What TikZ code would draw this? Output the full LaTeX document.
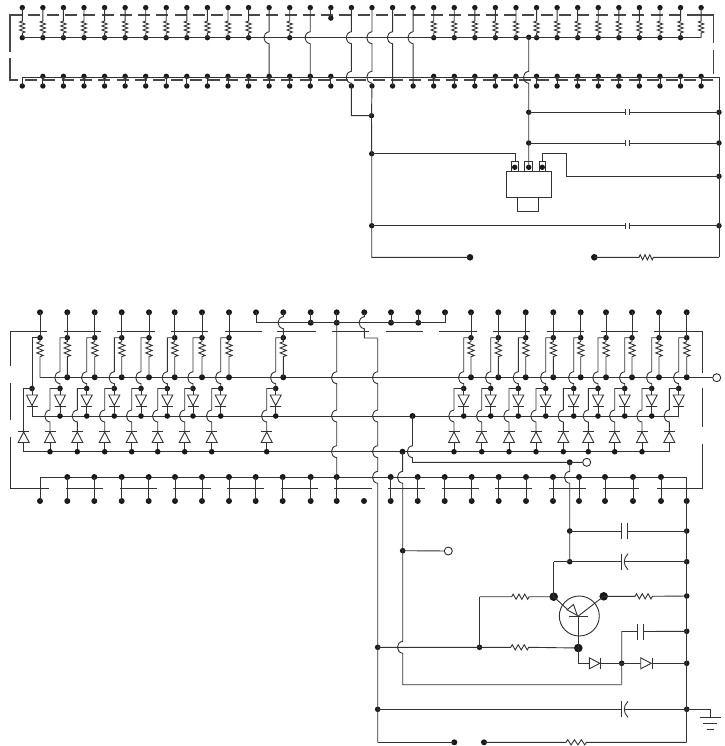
\documentclass[tikz,border=0pt]{standalone}
\begin{document}
\begin{tikzpicture}[x=1pt,y=-1pt,line cap=butt,line join=miter,
  wire/.style={line width=0.9pt,draw=black!80},
  dashwire/.style={line width=1.1pt,draw=black!72},
  dot/.style={circle,fill=black!90,draw=none,inner sep=0pt,minimum size=5.4pt},
  mdot/.style={dot,minimum size=6pt},
  bdot/.style={dot,minimum size=8.6pt},
  odot/.style={circle,fill=white,draw=black!82,line width=0.9pt,inner sep=0pt,minimum size=8pt},
  part/.style={line width=0.9pt,draw=black!80,fill=white}]
\useasboundingbox (0,0) rectangle (724,746);
\newcommand\hp[2]{-- ({#1},{#2-6}) .. controls ({#1-7},{#2-5}) and ({#1-7},{#2+5}) .. ({#1},{#2+6})}
\newcommand\rV[4]{-- ({#1},{#2}) -- ++({-#4},{.5*#3}) -- ++({2*#4},{#3}) -- ++({-2*#4},{#3}) -- ++({2*#4},{#3}) -- ++({-2*#4},{#3}) -- ++({2*#4},{#3}) -- ++({-#4},{.5*#3})}
\newcommand\rH[3]{-- ({#1},{#2}) -- ++({.5*#3},-2.6) -- ++({#3},5.2) -- ++({#3},-5.2) -- ++({#3},5.2) -- ++({#3},-5.2) -- ++({#3},5.2) -- ++({.5*#3},-2.6)}
\newcommand\capplates[3]{\draw[wire] ([yshift=-#3pt]#1) -- ([yshift=#3pt]#1); \draw[wire] ([yshift=-#3pt]#2) -- ([yshift=#3pt]#2);}
\newcommand\capcurve[2]{\draw[wire] ([yshift=-8pt]#1) -- ([yshift=8pt]#1); \draw[wire] ([yshift=-8pt]#2) .. controls ([xshift=-5pt,yshift=-3pt]#2) and ([xshift=-5pt,yshift=3pt]#2) .. ([yshift=8pt]#2);}
\newcommand\diodeD[2]{\draw[part] ({#1-5.5},{#2}) -- ({#1+5.5},{#2}) -- ({#1},{#2+10.5}) -- cycle; \draw[wire] ({#1-5.5},{#2+11.5}) -- ({#1+5.5},{#2+11.5});}
\newcommand\diodeU[2]{\draw[part] ({#1-5.5},{#2+11.5}) -- ({#1+5.5},{#2+11.5}) -- ({#1},{#2+1}) -- cycle; \draw[wire] ({#1-5.5},{#2}) -- ({#1+5.5},{#2});}
\newcommand\diodeR[2]{\draw[part] ({#1},{#2-5.5}) -- ({#1},{#2+5.5}) -- ({#1+10.5},{#2}) -- cycle; \draw[wire] ({#1+11.5},{#2-5.5}) -- ({#1+11.5},{#2+5.5});}

% ========== upper board ==========
\foreach \i in {0,...,33}{
  \pgfmathsetmacro\x{22.3+20.57*\i}
  \node[dot] (t\i) at (\x,7.6) {};
  \node[dot] (b\i) at (\x,86) {};
  \coordinate (w\i) at (\x,37.7);
  \coordinate (v\i) at (\x,77.3);
}
\foreach \i in {0,...,11,13,20,21,...,32}{\node[dot] (u\i) at (w\i) {};}
\coordinate (u33) at (w33);
\foreach \i in {1,...,15,20,21,...,33}{\node[dot] (l\i) at ([yshift=1pt]v\i) {};}
\node[dot] (n15) at ([yshift=-10.5pt]t15) {};
\node[dot] (m0) at (528.7,37.3) {};
\node[dot] (m1) at (528.7,112.3) {};
\node[dot] (m2) at (528.7,143) {};
\node[dot] (m3) at (528.7,167.3) {};
\node[dot] (pl) at (514.7,167.3) {};
\node[dot] (pr) at (542.3,167.3) {};
\node[dot] (g1) at (371.5,115.7) {};
\node[dot] (g2) at (371.7,153.7) {};
\node[dot] (g3) at (371.7,225.7) {};
\node[dot] (h1) at (719,112.3) {};
\node[dot] (h2) at (719,143) {};
\node[dot] (h3) at (719,176.3) {};
\node[dot] (h4) at (719,225.7) {};
\node[mdot,minimum size=6.6pt] (s1) at (470,257.3) {};
\node[mdot,minimum size=6.6pt] (s2) at (594.3,257.3) {};
\coordinate (lc) at (371.7,257.3);
\coordinate (rc) at (719,257.3);
\coordinate (re) at (719,77.3);

% dashed surround
\draw[dashwire] (10,52) -- (10,15) -- (22,15);
\draw[dashwire] (10,58) -- (10,80) -- (18,80);
\draw[dashwire,dash pattern=on 12pt off 6.3pt] (28.3,15) -- (687,15);
\draw[dashwire] (687.3,15) -- (713.3,15) -- (713.3,43);
\draw[dashwire] (713.3,50) -- (713.3,74);
\draw[dashwire,dash pattern=on 12pt off 6.3pt] (25,80) -- (713,80);

\foreach \i in {0,...,11,13,20,21,...,33}{
  \pgfmathsetmacro\x{22.3+20.57*\i}
  \draw[wire] (t\i.center) \rV{\x}{21}{2}{2.7} -- (u\i.center);
}
\draw[wire] (u0.center) -- (w33);
\draw[wire] (v0) -- (re);
\draw[wire] (v0) -- (b0.center);
\foreach \i in {1,...,15,20,21,...,33}{\draw[wire] (l\i.center) -- (b\i.center);}
\draw[wire] (t12.center) \hp{269.14}{37.7} -- (l12.center);
\draw[wire] (t14.center) \hp{310.28}{37.7} -- (l14.center);
\draw[wire] (t15.center) -- (n15.center);
\draw[wire] (t16.center) \hp{351.42}{37.7} \hp{351.42}{77.3} -- (b16.center) |- (g1.center);
\draw[wire] (t17.center) \hp{371.99}{37.7} \hp{371.99}{77.3} -- (b17.center) -- (g1.center);
\draw[wire] (t18.center) \hp{392.56}{37.7} -- (b18.center);
\draw[wire] (t19.center) \hp{413.13}{37.7} -- (b19.center);
\draw[wire] (m0.center) \hp{528.7}{77.3} -- (m1.center) -- (m2.center) -- (m3.center);
\draw[wire] (g1.center) -- (g2.center) -- (g3.center) -- (lc) -- (s1.center);
\draw[wire] (re) -- (h1.center) -- (h2.center) -- (h3.center) -- (h4.center) -- (rc);
\coordinate (c1a) at (625.3,112.3); \coordinate (c1b) at (629,112.3);
\coordinate (c2a) at (625.3,143);   \coordinate (c2b) at (629,143);
\coordinate (c3a) at (625.3,225.7); \coordinate (c3b) at (629,225.7);
\draw[wire] (m1.center) -- (c1a) (c1b) -- (h1.center);
\draw[wire] (m2.center) -- (c2a) (c2b) -- (h2.center);
\draw[wire] (g3.center) -- (c3a) (c3b) -- (h4.center);
\capplates{c1a}{c1b}{3}
\capplates{c2a}{c2b}{3}
\capplates{c3a}{c3b}{3}
\draw[wire] (s2.center) \rH{639}{257.3}{2.4} -- (rc);
% module
\draw[wire] (506.3,171.7) rectangle (551.7,197.3);
\draw[wire] (517.7,197.3) -- (517.7,211.7) -- (538.7,211.7) -- (538.7,197.3);
\draw[wire] (511.3,171.7) -- (511.3,161.7) -- (518.7,161.7) -- (518.7,171.7);
\draw[wire] (524.3,171.7) -- (524.3,161.7) -- (532.7,161.7) -- (532.7,171.7);
\draw[wire] (539.3,171.7) -- (539.3,161.7) -- (545.7,161.7) -- (545.7,171.7);
\draw[wire] (g2.center) -- (515,153.7) -- (515,161.7);
\draw[wire] (542.3,161.7) -- (542.3,153.7) -- (566.7,153.7) -- (566.7,176.3) -- (h3.center);

% ========== lower board ==========
% terminals on top, without resistor
\foreach \n/\x in {a/256,c/310.7,d/336.7,e/364.3,f/391,g/418.3,h/445}{\node[mdot] (T\n) at (\x,312.3) {};}
\foreach \n/\x in {c/310.7,d/336.7,f/391,g/418.3}{\node[mdot] (Q\n) at (\x,322.7) {};}
\coordinate (Qa) at (256,322.7); \coordinate (Qh) at (445,322.7);
\draw[wire] (Ta.center) -- (Qa) -- (Qh) -- (Th.center);
\draw[wire] (Tc.center) -- (Qc.center);
\draw[wire] (Td.center) -- (Qd.center);
\draw[wire] (Tf.center) -- (Qf.center);
\draw[wire] (Tg.center) -- (Qg.center);

\coordinate (r1s) at (40,377.7);
\coordinate (r1e) at (712,377.7);
\coordinate (r2s) at (32,416);
\coordinate (r2e) at (678.7,416);
\coordinate (r3s) at (23.7,451.7);
\coordinate (r3e) at (669.3,451.7);
\node[odot] (out1) at (716.7,377.7) {};
\draw[wire] (r1s) -- (out1);
\draw[wire] (r2s) -- (r2e);
\draw[wire] (r3s) -- (r3e);

\foreach \rx/\dx/\lx [count=\i] in {40/32/23.7,67.3/60/50,94.7/86.7/77.3,121.7/114.3/104.7,149/141/131.7,174.7/167.3/157.7,202/193/184.7,229/220.7/211.7,283.3/275.7/266.7,471/463.7/454,498.3/490.7/481.7,525.7/518.3/509,553.3/545.7/536,580.7/573.7/563.3,606/598/588.3,632/624.7/614.7,659/651.7/642,686.7/678.7/669.3}{
  \node[mdot] (RT\i) at (\rx,312.3) {};
  \node[dot,minimum size=5.6pt] (RD\i) at (\rx,337.7) {};
  \node[dot,minimum size=5.6pt] (DD\i) at (\dx,388.5) {};
  \ifnum\i=1
    \coordinate (RR\i) at (\rx,377.7);
    \coordinate (DE\i) at (\dx,416);
    \coordinate (DF\i) at (\lx,451.7);
  \else
    \node[mdot] (RR\i) at (\rx,377.3) {};
    \ifnum\i=18
      \coordinate (DE\i) at (\dx,416);
      \coordinate (DF\i) at (\lx,451.7);
    \else
      \node[dot,minimum size=5.6pt] (DE\i) at (\dx,416) {};
      \node[dot,minimum size=5.6pt] (DF\i) at (\lx,451.7) {};
    \fi
  \fi
  \ifnum\i=9
    \draw[wire] (RT\i.center) \hp{\rx}{322.7} -- (RD\i.center);
  \else
    \draw[wire] (RT\i.center) -- (RD\i.center);
  \fi
  \draw[wire] (RD\i.center) \rV{\rx}{341.7}{2.5}{3.2} -- (RR\i.center);
  \ifnum\i=1
    \draw[wire] (RD\i.center) -| (DD\i.center);
    \draw[wire] (DD\i.center) -| (\lx,431);
  \else
    \draw[wire] (RD\i.center) -| (\dx,371.7) \hp{\dx}{377.7} -- (DD\i.center);
    \draw[wire] (DD\i.center) -| (\lx,410) \hp{\lx}{416} -- (\lx,431);
  \fi
  \draw[wire] (DD\i.center) -- (DE\i);
  \draw[wire] (\lx,431) -- (DF\i);
  \diodeD{\dx}{395}
  \diodeU{\lx}{431}
}

% bus wires crossing the rows
\coordinate (jd) at (377.7,338);
\draw[wire] (Te.center) \hp{364.3}{322.7} -- (364.3,338) -- (jd);
\coordinate (busbot) at (377.7,742.3);
\node[dot,minimum size=5.6pt] (B1) at (377.7,647.3) {};
\node[dot,minimum size=5.6pt] (B2) at (377.7,709.3) {};
\draw[wire] (jd) \hp{377.7}{377.7} \hp{377.7}{416} \hp{377.7}{451.7} \hp{377.7}{477.3} -- (B1.center) -- (B2.center) -- (busbot);

% row 4, bottom terminals
\coordinate (q0) at (40,477.3);
\coordinate (qe) at (686.7,477.3);
\draw[wire] (q0) -- (qe);
\foreach \x [count=\j] in {67.3,94.3,121.7,148.7,175,202,229,255.7,282.7,310.7,336.7,390.7,417.7,444.7,471.7,498.7,526,553,579,605,633,661}{
  \node[mdot] (Pa\j) at (\x,477) {};
  \node[mdot] (Pb\j) at (\x,501) {};
  \draw[wire] (Pa\j.center) -- (Pb\j.center);
}
\node[mdot] (P0) at (40,501) {};
\draw[wire] (q0) -- (P0.center);
\node[mdot] (Piso) at (364,501) {};
\draw[wire] (Qd.center) \hp{336.7}{377.7} \hp{336.7}{416} \hp{336.7}{451.7} -- (Pa11.center);

% dashed stubs of the lower board
\foreach \a/\b in {63.7/101,117.3/154.7,171/208.3,225/261.7,276.7/315.7,332/369.3,385.7/422.7,439.3/476.7,493.3/530,546.7/583.7,600.7/637.7}{
  \draw[wire] (\a,331.7) -- (\b,331.7);}
\foreach \a/\b in {66.3/103.3,120/156.7,173.3/210.7,227.3/264,281/317.7,334.3/371.7,388.3/425,441.7/478.7,495/532.3,549/586,602.7/639.3}{
  \draw[wire] (\a,488.3) -- (\b,488.3);}
\draw[wire] (10,366) -- (10,331.7) -- (47,331.7);
\draw[wire] (10,383.3) -- (10,420);
\draw[wire] (10,437.3) -- (10,488.3) -- (49.3,488.3);
\draw[wire] (654,331.7) -- (702.7,331.7) -- (702.7,372.7);
\draw[wire] (702.7,388.3) -- (702.7,426.7);
\draw[wire] (702.7,444) -- (702.7,488.3) -- (656.7,488.3);

% wire to second output
\node[mdot] (J1) at (412.5,416) {};
\node[odot] (out2) at (586.7,462.3) {};
\node[mdot] (J2) at (569.7,462.3) {};
\draw[wire] (J1.center) \hp{412.5}{451.7} -- (412.5,462.3) -- (J2.center) -- (out2);

% right bus
\node[mdot] (Pe) at (686.7,501) {};
\node[dot,minimum size=5.6pt] (E1) at (686.7,531) {};
\node[dot,minimum size=5.6pt] (E2) at (686.7,561.7) {};
\node[dot,minimum size=5.6pt] (E3) at (686.7,596) {};
\node[dot,minimum size=5.6pt] (E4) at (686.7,631.3) {};
\node[dot,minimum size=5.6pt] (E5) at (686.7,663.3) {};
\node[dot,minimum size=5.6pt] (E6) at (686.7,709.3) {};
\coordinate (Ee) at (686.7,742.3);
\draw[wire] (qe) -- (Pe.center) -- (E1.center) -- (E2.center) -- (E3.center) -- (E4.center) -- (E5.center) -- (E6.center) -- (Ee);

% x=569.7 column
\node[dot,minimum size=5.6pt] (F1) at (569.7,531) {};
\node[dot,minimum size=5.6pt] (F2) at (569.7,561.7) {};
\draw[wire] (J2.center) \hp{569.7}{477.3} -- (F1.center) -- (F2.center);
\coordinate (ca1) at (621.7,531); \coordinate (cb1) at (627.7,531);
\draw[wire] (F1.center) -- (ca1) (cb1) -- (E1.center);
\capplates{ca1}{cb1}{8}
\coordinate (ca2) at (621.7,561.7); \coordinate (cb2) at (628,561.7);
\coordinate (cl2) at (553.7,561.7);
\draw[wire] (cl2) -- (F2.center) -- (ca2) ([xshift=-3.5pt]cb2) -- (E2.center);
\capcurve{ca2}{cb2}

% second dot on row 3 and column x=402.7
\node[mdot] (J3) at (402.5,451.7) {};
\node[dot,minimum size=5.6pt] (K1) at (402.7,550.7) {};
\node[odot] (out3) at (448.3,551) {};
\coordinate (Kb) at (402.7,684.7);
\coordinate (Kr) at (621.7,684.7);
\draw[wire] (J3.center) \hp{402.7}{477.3} -- (K1.center) \hp{402.7}{647.3} -- (Kb) -- (Kr);
\draw[wire] (K1.center) -- (out3);
\node[dot,minimum size=5.6pt] (K2) at (621.7,663.3) {};
\coordinate (Kt) at (621.7,631.5);
\coordinate (ca3) at (637,631.5); \coordinate (cb3) at (643.5,631.5);
\draw[wire] (Kr) -- (K2.center) -- (Kt) -- (ca3) (cb3) -- (E4.center);
\capplates{ca3}{cb3}{8}

% transistor
\node[circle,draw=black!82,line width=0.9pt,inner sep=0pt,minimum size=40pt] (Q) at (579.3,616) {};
\node[bdot] (QE) at (553.7,596.7) {};
\node[bdot] (QC) at (603.7,596.3) {};
\node[bdot] (QB) at (578.3,648) {};
\coordinate (Qm) at (578.3,616);
\draw[wire] (QB.center) -- (Qm);
\draw[wire] (569.3,616) -- (588,616);
\draw[wire] (QC.center) -- (Qm);
\draw[wire] (QE.center) -- (567,609);
\draw[part] (577.3,615.5) -- (567,609.8) -- (573.5,604.5) -- cycle;
\draw[wire] (cl2) -- (QE.center);
% resistors around transistor
\coordinate (L1) at (479.5,596.7);
\node[dot,minimum size=5.6pt] (L2) at (479.5,647.3) {};
\draw[wire] (L1) \rH{511.7}{596.7}{2.9} -- (QE.center);
\draw[wire] (L1) -- (L2.center);
\draw[wire] (B1.center) -- (L2.center) \rH{510.7}{647.3}{3} -- (QB.center);
\draw[wire] (QC.center) \rH{635}{596.3}{2.9} -- (E3.center);
% diodes
\coordinate (Dn) at (578.3,663.3);
\coordinate (D1a) at (589.3,663.3); \coordinate (D1b) at (600.8,663.3);
\coordinate (D2a) at (640.7,663.3); \coordinate (D2b) at (652.2,663.3);
\draw[wire] (QB.center) -- (Dn) -- (D1a) (D1b) -- (K2.center) -- (D2a) (D2b) -- (E5.center);
\diodeR{589.3}{663.3}
\diodeR{640.7}{663.3}
% bottom cap
\coordinate (ca4) at (621.7,709.3); \coordinate (cb4) at (628,709.3);
\draw[wire] (B2.center) -- (ca4) ([xshift=-3.5pt]cb4) -- (E6.center);
\capcurve{ca4}{cb4}
% ground
\coordinate (Ga) at (710.7,709.3);
\coordinate (Gb) at (710.7,717.3);
\draw[wire] (E6.center) -- (Ga) -- (Gb);
\draw[wire] (700,717.3) -- (721,717.3);
\draw[wire] (703.3,723.3) -- (717.3,723.3);
\draw[wire] (706.7,729.3) -- (714,729.3);
% bottom line
\node[mdot] (S1) at (454.3,742.3) {};
\node[mdot] (S2) at (484,742.3) {};
\draw[wire] (busbot) -- (S1.center);
\draw[wire] (S2.center) \rH{566}{742.3}{3.4} -- (Ee);
\end{tikzpicture}
\end{document}
